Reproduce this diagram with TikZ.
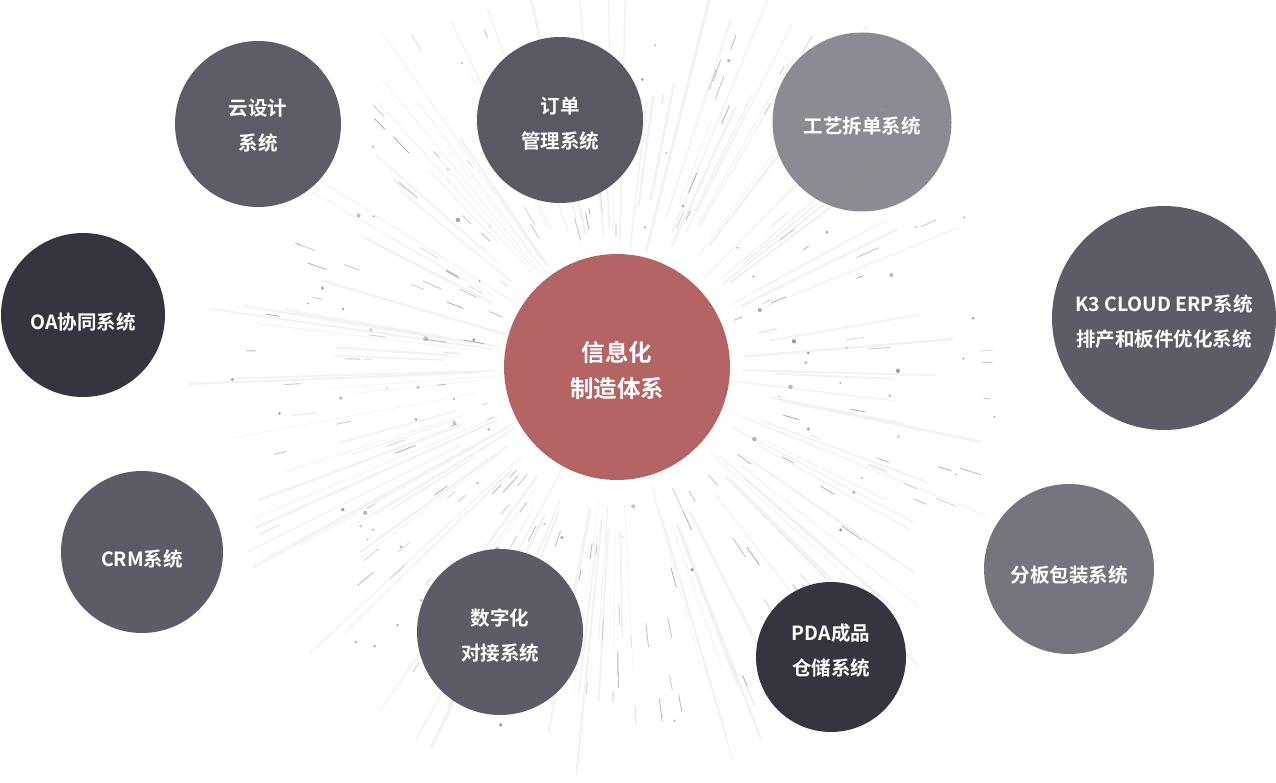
\documentclass[tikz,border=0pt]{standalone}
\usepackage{fontspec}
\usetikzlibrary{calc}
\setmainfont{Noto Sans CJK SC Bold}
\begin{document}
\begin{tikzpicture}[x=1pt,y=-1pt,
  bub/.style={circle,inner sep=0pt},
  txt/.style={text=white,align=center,font=\fontsize{19.5}{35}\selectfont,yshift=-4pt},
  ray/.style={line width=#1,draw=black!5,line cap=round},
  shortdash/.style={draw=black!35,line width=0.9,line cap=round},
  speck/.style={fill=black!45}]
\useasboundingbox (0,0) rectangle (1276,783);
\coordinate (c) at (617,367);
% radial rays
\pgfmathsetseed{7}
\foreach \i in {1,...,130}{
  \pgfmathsetmacro\ang{rnd*360}
  \pgfmathsetmacro\ra{115+rnd*60}
  \pgfmathsetmacro\rb{260+rnd*170}
  \pgfmathsetmacro\w{0.6+rnd*1.8}
  \draw[ray=\w pt] ($(c)+(\ang:\ra)$) -- ($(c)+(\ang:\rb)$);
}
% short dashes
\foreach \i in {1,...,170}{
  \pgfmathsetmacro\ang{rnd*360}
  \pgfmathsetmacro\ra{125+rnd*250}
  \pgfmathsetmacro\len{6+rnd*18}
  \pgfmathsetmacro\rb{\ra+\len}
  \pgfmathsetmacro\op{0.3+rnd*0.6}
  \draw[shortdash,opacity=\op] ($(c)+(\ang:\ra)$) -- ($(c)+(\ang:\rb)$);
}
% dots
\foreach \i in {1,...,90}{
  \pgfmathsetmacro\ang{rnd*360}
  \pgfmathsetmacro\ra{125+rnd*260}
  \pgfmathsetmacro\sz{0.8+rnd*1.6}
  \pgfmathsetmacro\op{0.4+rnd*0.5}
  \fill[speck,opacity=\op] ($(c)+(\ang:\ra)$) circle (\sz);
}
% bubbles
\node[bub,fill={rgb,255:red,93;green,92;blue,103},minimum size=166,label={[txt,yshift=2pt]center:云设计\\系统}] (yun) at (258,124) {};
\node[bub,fill={rgb,255:red,90;green,89;blue,99},minimum size=166,label={[txt]center:订单\\管理系统}] (ding) at (560,120) {};
\node[bub,fill={rgb,255:red,134;green,133;blue,141},minimum size=179,fill opacity=0.95,label={[txt]center:工艺拆单系统}] (gong) at (862,122) {};
\node[bub,fill={rgb,255:red,93;green,92;blue,102},minimum size=224,label={[txt]center:K3 CLOUD ERP系统\\排产和板件优化系统}] (k3) at (1164,318) {};
\node[bub,fill={rgb,255:red,53;green,52;blue,63},minimum size=164,label={[txt,yshift=-3pt]center:OA协同系统}] (oa) at (83,315) {};
\node[bub,fill={rgb,255:red,180;green,100;blue,98},minimum size=226,label={[txt,font=\fontsize{23.5}{36}\selectfont,yshift=1pt]center:信息化\\制造体系}] (core) at (617,367) {};
\node[bub,fill={rgb,255:red,93;green,92;blue,102},minimum size=162,label={[txt,yshift=-3pt]center:CRM系统}] (crm) at (142,552) {};
\node[bub,fill={rgb,255:red,93;green,92;blue,102},minimum size=166,label={[txt]center:数字化\\对接系统}] (shu) at (500,632) {};
\node[bub,fill={rgb,255:red,53;green,52;blue,63},minimum size=150,label={[txt,yshift=10pt]center:PDA成品\\仓储系统}] (pda) at (831,657) {};
\node[bub,fill={rgb,255:red,118;green,117;blue,126},minimum size=170,label={[txt,yshift=-2pt]center:分板包装系统}] (fen) at (1069,569) {};
\end{tikzpicture}
\end{document}
